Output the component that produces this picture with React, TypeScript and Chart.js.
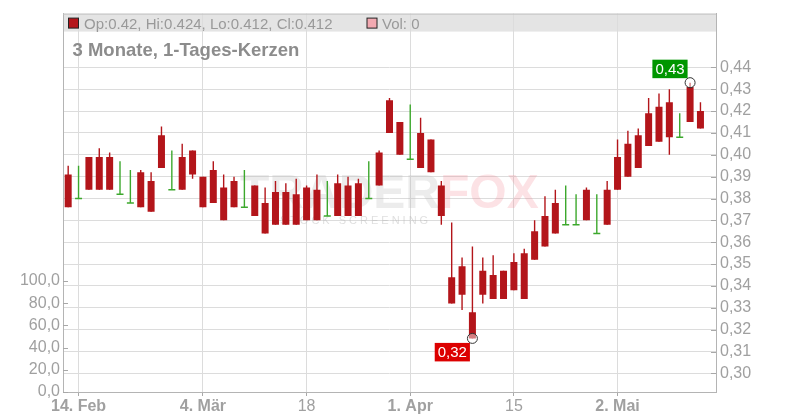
import React, { useEffect, useRef } from "react";
import { Chart, registerables } from "chart.js";

Chart.register(...registerables);

const FONT = "'Liberation Sans', Arial, Helvetica, sans-serif";

const xTickIndex = [1, 13, 23, 33, 43, 53];
const xTickLabels = ["14. Feb", "4. Mär", "18", "1. Apr", "15", "2. Mai"];
const xTickBold = [true, true, false, true, false, true];

const opens = [
  0.391, 0.38, 0.399, 0.399, 0.399, 0.382, 0.378, 0.392, 0.388, 0.409,
  0.384, 0.399, 0.402, 0.39, 0.393, 0.385, 0.388, 0.376, 0.386, 0.378,
  0.383, 0.383, 0.382, 0.385, 0.384, 0.372, 0.387, 0.386, 0.387, 0.38,
  0.401, 0.425, 0.415, 0.398, 0.41, 0.407, 0.386, 0.344, 0.349, 0.328,
  0.347, 0.345, 0.347, 0.351, 0.355, 0.365, 0.372, 0.378, 0.368, 0.368,
  0.384, 0.364, 0.384, 0.399, 0.405, 0.409, 0.419, 0.422, 0.424, 0.408,
  0.431, 0.42,
];
const highs = [
  0.395, 0.395, 0.399, 0.403, 0.401, 0.397, 0.393, 0.393, 0.392, 0.413,
  0.402, 0.405, 0.402, 0.39, 0.397, 0.391, 0.39, 0.393, 0.386, 0.385,
  0.388, 0.387, 0.389, 0.386, 0.391, 0.388, 0.391, 0.39, 0.389, 0.397,
  0.402, 0.426, 0.415, 0.423, 0.417, 0.407, 0.388, 0.369, 0.353, 0.358,
  0.353, 0.354, 0.347, 0.355, 0.357, 0.37, 0.381, 0.384, 0.386, 0.382,
  0.385, 0.382, 0.388, 0.407, 0.411, 0.412, 0.426, 0.428, 0.43, 0.419,
  0.433, 0.424,
];
const lows = [
  0.376, 0.38, 0.384, 0.384, 0.384, 0.382, 0.378, 0.376, 0.374, 0.394,
  0.384, 0.384, 0.389, 0.376, 0.378, 0.37, 0.376, 0.376, 0.372, 0.364,
  0.368, 0.368, 0.368, 0.37, 0.37, 0.372, 0.372, 0.372, 0.372, 0.38,
  0.386, 0.41, 0.4, 0.398, 0.394, 0.392, 0.368, 0.332, 0.329, 0.316,
  0.332, 0.334, 0.334, 0.338, 0.334, 0.352, 0.358, 0.364, 0.368, 0.368,
  0.37, 0.364, 0.368, 0.384, 0.39, 0.394, 0.404, 0.406, 0.4, 0.408,
  0.415, 0.412,
];
const closes = [
  0.376, 0.38, 0.384, 0.384, 0.384, 0.382, 0.378, 0.376, 0.374, 0.394,
  0.384, 0.384, 0.391, 0.376, 0.378, 0.37, 0.376, 0.376, 0.372, 0.364,
  0.368, 0.368, 0.368, 0.37, 0.37, 0.372, 0.372, 0.372, 0.372, 0.38,
  0.386, 0.41, 0.4, 0.398, 0.394, 0.392, 0.372, 0.332, 0.336, 0.316,
  0.336, 0.334, 0.334, 0.338, 0.334, 0.352, 0.358, 0.364, 0.368, 0.368,
  0.37, 0.364, 0.368, 0.384, 0.39, 0.394, 0.404, 0.406, 0.408, 0.408,
  0.415, 0.412,
];
const volumes = [
  0, 0, 0, 0, 0, 0, 0, 0, 0, 0,
  0, 0, 0, 0, 0, 0, 0, 0, 0, 0,
  0, 0, 0, 0, 0, 0, 0, 0, 0, 0,
  0, 0, 0, 0, 0, 0, 0, 0, 0, 0,
  0, 0, 0, 0, 0, 0, 0, 0, 0, 0,
  0, 0, 0, 0, 0, 0, 0, 0, 0, 0,
  0, 0,
];

const priceTicks = [0.3, 0.31, 0.32, 0.33, 0.34, 0.35, 0.36, 0.37, 0.38, 0.39, 0.4, 0.41, 0.42, 0.43, 0.44];
const volumeTicks = [0, 20, 40, 60, 80, 100];

const titleText = "3 Monate, 1-Tages-Kerzen";

const RED = "#b3151a";
const GREEN = "#3ca82c";

const overlayPlugin = {
  id: "overlay",
  beforeDraw(chart: any) {
    const { ctx, chartArea: a } = chart;
    ctx.save();
    ctx.fillStyle = "#e4e4e4";
    ctx.fillRect(a.left, a.top, a.right - a.left, 18);
    ctx.restore();
  },
  beforeDatasetsDraw(chart: any) {
    const { ctx } = chart;
    ctx.save();
    ctx.font = `bold 48px ${FONT}`;
    ctx.textBaseline = "alphabetic";
    ctx.fillStyle = "rgba(185,185,185,0.28)";
    ctx.fillText("TRADER", 240, 208);
    const w = ctx.measureText("TRADER").width;
    ctx.fillStyle = "rgba(240,110,125,0.2)";
    ctx.fillText("FOX", 240 + w, 208);
    ctx.font = `11px ${FONT}`;
    (ctx as any).letterSpacing = "3px";
    ctx.fillStyle = "rgba(185,185,185,0.45)";
    ctx.fillText("STOCK SCREENING", 280, 224);
    ctx.restore();
  },
  afterDraw(chart: any) {
    const { ctx, chartArea: a, scales } = chart;
    ctx.save();
    // top frame
    ctx.strokeStyle = "#c2c2c2";
    ctx.lineWidth = 1;
    ctx.beginPath();
    ctx.moveTo(a.left, a.top + 0.5);
    ctx.lineTo(a.right, a.top + 0.5);
    ctx.stroke();
    // inward tick marks
    ctx.strokeStyle = "#a8a8a8";
    priceTicks.forEach((v) => {
      const py = Math.round(scales.y.getPixelForValue(v)) + 0.5;
      ctx.beginPath();
      ctx.moveTo(a.right - 5, py);
      ctx.lineTo(a.right, py);
      ctx.stroke();
    });
    volumeTicks.forEach((v) => {
      const py = Math.round(scales.yVol.getPixelForValue(v)) + 0.5;
      ctx.beginPath();
      ctx.moveTo(a.left, py);
      ctx.lineTo(a.left + 5, py);
      ctx.stroke();
    });

    // legend
    const last = closes.length - 1;
    ctx.fillStyle = RED;
    ctx.fillRect(a.left + 5.5, a.top + 4.5, 10, 10);
    ctx.strokeStyle = "#222";
    ctx.strokeRect(a.left + 5.5, a.top + 4.5, 10, 10);
    ctx.font = `15px ${FONT}`;
    ctx.fillStyle = "#999";
    ctx.textBaseline = "alphabetic";
    const legendText = `Op:${opens[last]}, Hi:${highs[last]}, Lo:${lows[last]}, Cl:${closes[last]}`;
    ctx.fillText(legendText, a.left + 21, a.top + 15.3);
    const lw = ctx.measureText(legendText).width;
    const vx = a.left + 21 + lw + 34.5;
    ctx.fillStyle = "#f2a9b1";
    ctx.fillRect(vx, a.top + 4.5, 10, 10);
    ctx.strokeRect(vx, a.top + 4.5, 10, 10);
    ctx.fillStyle = "#999";
    ctx.fillText(`Vol: ${volumes[last]}`, vx + 15, a.top + 15.3);

    // title
    ctx.font = `bold 18.5px ${FONT}`;
    ctx.fillStyle = "#8c8c8c";
    ctx.fillText(titleText, a.left + 9.5, a.top + 42);

    // max / min markers
    let maxI = 0;
    let minI = 0;
    highs.forEach((h, i) => { if (h > highs[maxI]) maxI = i; });
    lows.forEach((l, i) => { if (l < lows[minI]) minI = i; });
    const drawMarker = (i: number, val: number, above: boolean, color: string) => {
      const px = scales.x.getPixelForValue(i);
      const py = scales.y.getPixelForValue(val);
      ctx.beginPath();
      ctx.arc(px, py, 5, 0, Math.PI * 2);
      ctx.fillStyle = "rgba(255,255,255,0.45)";
      ctx.fill();
      ctx.strokeStyle = "#333";
      ctx.lineWidth = 1;
      ctx.stroke();
      const label = val.toFixed(2).replace(".", ",");
      ctx.font = `15px ${FONT}`;
      const tw = ctx.measureText(label).width;
      const bw = tw + 6;
      const bh = 18.5;
      const bx = px - 2.5 - bw;
      const by = above ? py - 4.5 - bh : py + 4.5;
      ctx.fillStyle = color;
      ctx.fillRect(bx, by, bw, bh);
      ctx.fillStyle = "#fff";
      ctx.textAlign = "center";
      ctx.textBaseline = "middle";
      ctx.fillText(label, bx + bw / 2, by + bh / 2 + 0.5);
      ctx.textAlign = "left";
      ctx.textBaseline = "alphabetic";
    };
    drawMarker(maxI, highs[maxI], true, "#009600");
    drawMarker(minI, lows[minI], false, "#dc0000");
    ctx.restore();
  },
};

export default function App() {
  const ref = useRef<HTMLCanvasElement | null>(null);

  useEffect(() => {
    if (!ref.current) return;
    Chart.defaults.font.family = FONT;
    const idx = closes.map((_, i) => i);
    const isUp = (i: number) => closes[i] >= opens[i];
    const chart = new Chart(ref.current, {
      type: "bar",
      data: {
        datasets: [
          {
            type: "line",
            label: "doji",
            data: idx.filter((i) => opens[i] === closes[i]).map((i) => ({ x: i, y: closes[i] })),
            showLine: false,
            pointStyle: "line",
            pointRadius: 3.5,
            pointHoverRadius: 3.5,
            borderColor: GREEN,
            backgroundColor: GREEN,
            pointBorderWidth: 1.5,
            borderWidth: 1.5,
            yAxisID: "y",
            order: 0,
          } as any,
          {
            label: "bodies",
            data: idx.filter((i) => opens[i] !== closes[i]).map((i) => ({ x: i, y: [closes[i], opens[i]] })),
            backgroundColor: idx.filter((i) => opens[i] !== closes[i]).map((i) => (isUp(i) ? GREEN : RED)),
            grouped: false,
            maxBarThickness: 7,
            borderWidth: 0,
            yAxisID: "y",
            order: 1,
          } as any,
          {
            label: "wicks",
            data: idx.map((i) => ({ x: i, y: [lows[i], highs[i]] })),
            backgroundColor: idx.map((i) => (isUp(i) ? GREEN : RED)),
            grouped: false,
            maxBarThickness: 1.4,
            borderWidth: 0,
            yAxisID: "y",
            order: 2,
          } as any,
          {
            label: "volume",
            data: idx.map((i) => ({ x: i, y: volumes[i] })),
            backgroundColor: "#f2a9b1",
            grouped: false,
            maxBarThickness: 7,
            yAxisID: "yVol",
            order: 3,
          } as any,
        ],
      },
      options: {
        responsive: false,
        animation: false,
        devicePixelRatio: 1,
        layout: { padding: { top: 12, left: 0, right: 0, bottom: 0 } },
        plugins: { legend: { display: false }, tooltip: { enabled: false } },
        events: [],
        scales: {
          x: {
            type: "linear",
            offset: false,
            min: -0.5,
            max: 62.5,
            afterBuildTicks: (s: any) => {
              s.ticks = xTickIndex.map((v) => ({ value: v }));
            },
            afterFit: (s: any) => {
              s.height = 28;
            },
            ticks: {
              autoSkip: false,
              maxRotation: 0,
              padding: 1,
              color: "#a0a0a0",
              font: (c: any) => ({ family: FONT, size: 16, weight: xTickBold[c.index] ? "bold" : "normal" }),
              callback: (_v: any, i: number) => xTickLabels[i],
            },
            grid: { offset: false, color: "#dcdcdc", tickColor: "#a8a8a8", tickLength: 4 },
            border: { color: "#b4b4b4" },
          },
          y: {
            type: "linear",
            position: "right",
            min: 0.29148,
            max: 0.4646,
            afterBuildTicks: (s: any) => {
              s.ticks = priceTicks.map((v) => ({ value: v }));
            },
            afterFit: (s: any) => {
              s.width = 84;
            },
            ticks: {
              padding: 4,
              color: "#a0a0a0",
              font: { family: FONT, size: 16 },
              callback: (v: any) => Number(v).toFixed(2).replace(".", ","),
            },
            grid: { color: "#dcdcdc", drawTicks: false },
            border: { color: "#b4b4b4" },
          },
          yVol: {
            type: "linear",
            position: "left",
            min: 0,
            max: 341,
            afterBuildTicks: (s: any) => {
              s.ticks = volumeTicks.map((v) => ({ value: v }));
            },
            afterFit: (s: any) => {
              s.width = 63;
            },
            ticks: {
              padding: 3,
              color: "#a0a0a0",
              font: { family: FONT, size: 16 },
              callback: (v: any) => Number(v).toFixed(1).replace(".", ","),
            },
            grid: { display: false, drawTicks: false, drawOnChartArea: false },
            border: { display: true, color: "#b4b4b4" },
          },
        },
      } as any,
      plugins: [overlayPlugin],
    });
    return () => chart.destroy();
  }, []);

  return (
    <div style={{ position: "fixed", left: 0, top: 0, width: 800, height: 420, background: "#fff" }}>
      <canvas ref={ref} width={800} height={420} style={{ display: "block" }} />
    </div>
  );
}
